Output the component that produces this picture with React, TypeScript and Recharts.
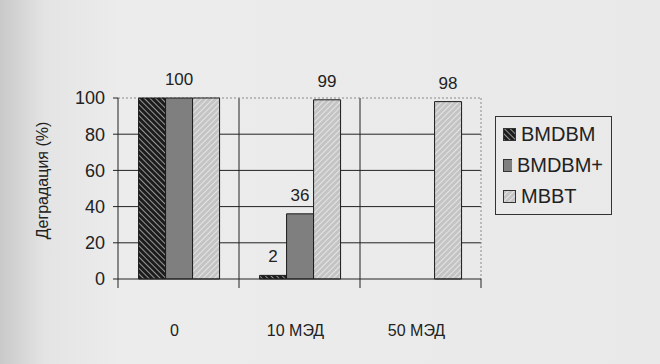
import React from "react";
import {
  BarChart,
  Bar,
  XAxis,
  YAxis,
  CartesianGrid,
  LabelList,
  Label,
} from "recharts";

const categories = ["0", "10 МЭД", "50 МЭД"];
const bmdbm = [100, 2, null];
const bmdbmPlus = [100, 36, null];
const mbbt = [100, 99, 98];
// only some bars carry a value label in the original figure
const bmdbmLabels = [null, 2, null];
const bmdbmPlusLabels = [100, 36, null];
const mbbtLabels = [null, 99, 98];
const yTicks = [0, 20, 40, 60, 80, 100];
const innerGrid = [20, 40, 60, 80];

const data = categories.map((name, i) => ({
  name,
  BMDBM: bmdbm[i],
  "BMDBM+": bmdbmPlus[i],
  MBBT: mbbt[i],
  l1: bmdbmLabels[i],
  l2: bmdbmPlusLabels[i],
  l3: mbbtLabels[i],
}));

const W = 660;
const H = 364;
const margin = { top: 98, right: 179, left: 0, bottom: 25 };
const yAxisWidth = 118;
const plotWidth = W - margin.left - margin.right - yAxisWidth;
const band = plotWidth / categories.length;

const font = "'Liberation Sans', Arial, sans-serif";
const ink = "#222";

const series = [
  { key: "BMDBM", fill: "url(#hatchDark)", label: "l1" },
  { key: "BMDBM+", fill: "#7f7f7f", label: "l2" },
  { key: "MBBT", fill: "url(#hatchLight)", label: "l3" },
];

function XTick(props: any) {
  const { x, y, payload, index } = props;
  const last = index === categories.length - 1;
  return (
    <g>
      <line x1={x - band / 2} x2={x - band / 2} y1={y} y2={y + 9} stroke={ink} />
      {last && <line x1={x + band / 2} x2={x + band / 2} y1={y} y2={y + 9} stroke={ink} />}
      <text
        x={x - 4}
        y={y + 53}
        textAnchor="middle"
        dominantBaseline="middle"
        fontSize={16}
        fontFamily={font}
        fill={ink}
      >
        {payload.value}
      </text>
    </g>
  );
}

function LegendBox() {
  return (
    <div
      style={{
        position: "absolute",
        left: 495,
        top: 116,
        border: "1px solid #333",
        padding: "2px 8px 2px 7px",
        fontFamily: font,
        fontSize: 20,
        color: ink,
        width: 100,
        boxSizing: "content-box",
      }}
    >
      {series.map((s) => (
        <div key={s.key} style={{ display: "flex", alignItems: "center", height: 31 }}>
          <svg width={13} height={13} style={{ marginRight: 5 }}>
            <rect x={0.5} y={0.5} width={12} height={12} fill={s.fill} stroke="#333" />
          </svg>
          <span>{s.key}</span>
        </div>
      ))}
    </div>
  );
}

export default function App() {
  return (
    <div
      style={{
        position: "absolute",
        left: 0,
        top: 0,
        width: W,
        height: H,
        background: "linear-gradient(to right, #c9c9c9 0px, #e4e4e4 45px, #ececec 120px, #e9e9e9 100%)",
      }}
    >
      <BarChart
        width={W}
        height={H}
        data={data}
        margin={margin}
        barCategoryGap="17%"
        barGap={0}
      >
        <defs>
          <pattern
            id="hatchDark"
            width="4"
            height="4"
            patternUnits="userSpaceOnUse"
            patternTransform="rotate(-45)"
          >
            <rect width="4" height="4" fill="#1c1c1c" />
            <line x1="0" y1="0" x2="0" y2="4" stroke="#d8d8d8" strokeWidth="1.3" />
          </pattern>
          <pattern
            id="hatchLight"
            width="4"
            height="4"
            patternUnits="userSpaceOnUse"
            patternTransform="rotate(45)"
          >
            <rect width="4" height="4" fill="#c4c4c4" />
            <line x1="0" y1="0" x2="0" y2="4" stroke="#efefef" strokeWidth="1.5" />
          </pattern>
        </defs>
        <CartesianGrid
          stroke={ink}
          horizontalCoordinatesGenerator={({ offset }: any) =>
            innerGrid.map((v) => offset.top + offset.height * (1 - v / 100))
          }
          verticalCoordinatesGenerator={({ offset }: any) =>
            [1, 2].map((i) => offset.left + (offset.width * i) / categories.length)
          }
        />
        <CartesianGrid
          stroke="#8a8a8a"
          strokeDasharray="2 2"
          horizontalCoordinatesGenerator={({ offset }: any) => [offset.top]}
          verticalCoordinatesGenerator={({ offset }: any) => [offset.left + offset.width]}
        />
        <XAxis
          dataKey="name"
          height={60}
          tickSize={0}
          tickMargin={0}
          tickLine={false}
          axisLine={{ stroke: ink }}
          tick={<XTick />}
          interval={0}
        />
        <YAxis
          width={yAxisWidth}
          domain={[0, 100]}
          ticks={yTicks}
          interval={0}
          tickSize={5}
          tickMargin={8}
          axisLine={{ stroke: ink }}
          tickLine={{ stroke: ink }}
          tick={{ fontSize: 18, fontFamily: font, fill: ink }}
        >
          <Label
            content={(p: any) => {
              const vb = p.viewBox;
              const cx = vb.x + 44;
              const cy = vb.y + vb.height / 2 - 8;
              return (
                <text
                  x={cx}
                  y={cy}
                  transform={`rotate(-90, ${cx}, ${cy})`}
                  textAnchor="middle"
                  dominantBaseline="middle"
                  fontSize={16}
                  fontFamily={font}
                  fill={ink}
                >
                  Деградация (%)
                </text>
              );
            }}
          />
        </YAxis>
        {series.map((s) => (
          <Bar
            key={s.key}
            dataKey={s.key}
            fill={s.fill}
            stroke="#1a1a1a"
            strokeWidth={1}
            isAnimationActive={false}
          >
            <LabelList
              dataKey={s.label}
              position="top"
              offset={13}
              fontSize={17}
              fontFamily={font}
              fill={ink}
            />
          </Bar>
        ))}
      </BarChart>
      <LegendBox />
    </div>
  );
}
